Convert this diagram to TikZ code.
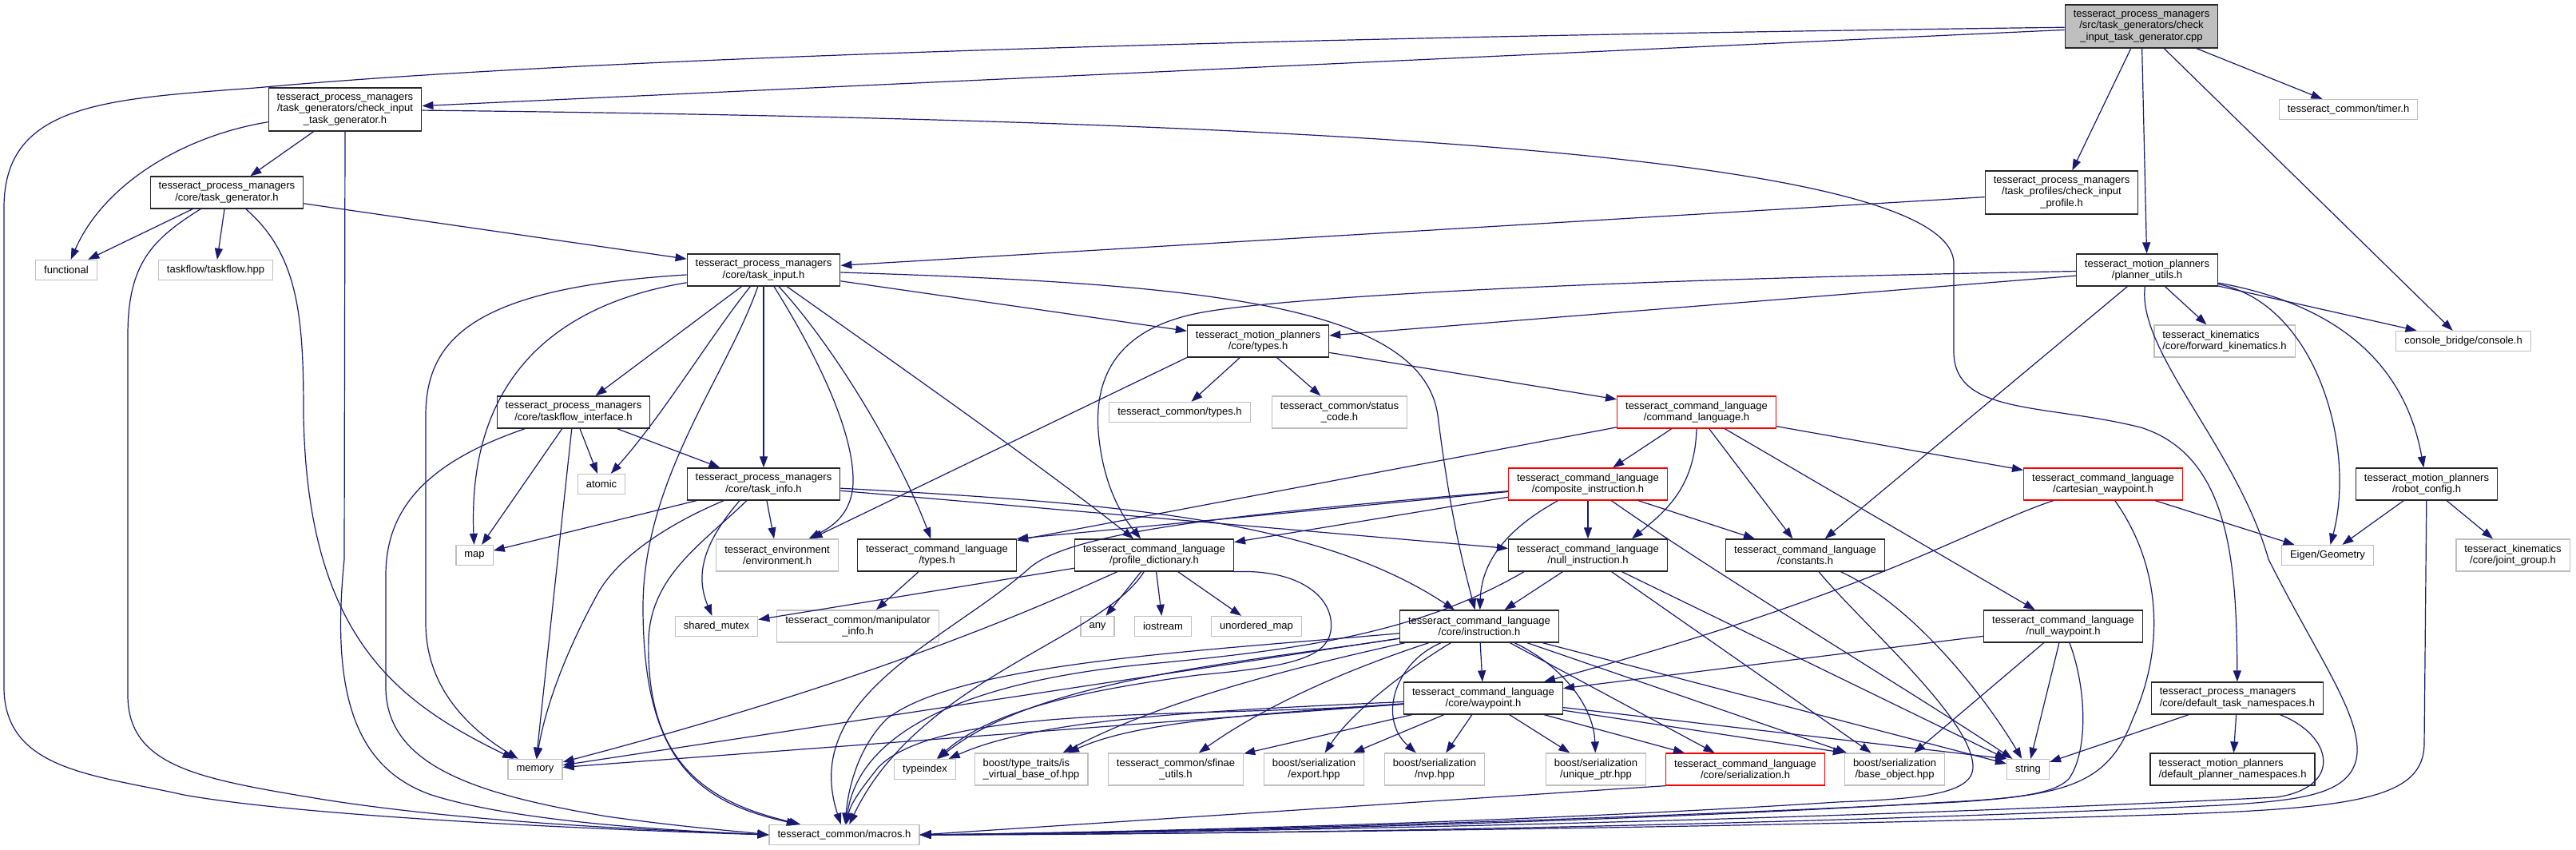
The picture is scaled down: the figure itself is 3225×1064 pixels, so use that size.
\documentclass[tikz,border=0pt]{standalone}
\usepackage{fontspec}
\setmainfont{Liberation Sans}
\usepackage{xcolor}
\usetikzlibrary{arrows.meta}

\definecolor{edgeblue}{HTML}{191970}

\begin{document}
\begin{tikzpicture}[x=1pt, y=-1pt,
    box/.style={rectangle, draw=black!85, fill=white, line width=1.3pt, align=center, inner xsep=10.5pt, inner ysep=1pt, font=\fontsize{13}{14.5}\selectfont},
    ext/.style={box, draw=black!25},
    trunc/.style={box, draw=red},
    rootbox/.style={box, fill=black!25},
    oneline/.style={minimum height=25pt},
    twoline/.style={minimum height=40pt},
    threeline/.style={minimum height=54pt},
    arr/.style={-{Triangle[length=14pt, width=10pt]}, line width=1.2pt, draw=edgeblue}
]
    \useasboundingbox (0,0) rectangle (3225,1064);

    % Rang 0 - 2
    \node[rootbox, threeline] (check_cpp) at (2681,33) {tesseract\_process\_managers\\/src/task\_generators/check\\\_input\_task\_generator.cpp};
    \node[box, threeline] (check_gen_h) at (432,137) {tesseract\_process\_managers\\/task\_generators/check\_input\\\_task\_generator.h};
    \node[ext, oneline] (timer) at (2940,137) {tesseract\_common/timer.h};
    \node[box, twoline] (task_gen) at (284,241) {tesseract\_process\_managers\\/core/task\_generator.h};
    \node[box, threeline] (check_profile) at (2581,241) {tesseract\_process\_managers\\/task\_profiles/check\_input\\\_profile.h};

    % Rang 3 - 5
    \node[ext, oneline] (functional) at (83,338) {functional};
    \node[ext, oneline] (taskflow) at (270,338) {taskflow/taskflow.hpp};
    \node[box, twoline] (task_input) at (956,338) {tesseract\_process\_managers\\/core/task\_input.h};
    \node[box, twoline] (planner_utils) at (2688,338) {tesseract\_motion\_planners\\/planner\_utils.h};
    \node[box, twoline] (mp_types) at (1575,427) {tesseract\_motion\_planners\\/core/types.h};
    \node[ext, twoline, align=left] (fwd_kin) at (2785,427) {tesseract\_kinematics\\/core/forward\_kinematics.h};
    \node[ext, oneline] (console) at (3084,427) {console\_bridge/console.h};
    \node[box, twoline] (taskflow_if) at (718,516) {tesseract\_process\_managers\\/core/taskflow\_interface.h};
    \node[ext, oneline] (common_types) at (1477,516) {tesseract\_common/types.h};
    \node[ext, twoline] (status_code) at (1677,516) {tesseract\_common/status\\\_code.h};
    \node[trunc, twoline] (cmd_lang) at (2124,516) {tesseract\_command\_language\\/command\_language.h};

    % Rang 6 - 7
    \node[ext, oneline] (atomic) at (753,606) {atomic};
    \node[box, twoline] (task_info) at (956,606) {tesseract\_process\_managers\\/core/task\_info.h};
    \node[trunc, twoline] (composite) at (1988,606) {tesseract\_command\_language\\/composite\_instruction.h};
    \node[trunc, twoline] (cart_wp) at (2633,606) {tesseract\_command\_language\\/cartesian\_waypoint.h};
    \node[box, twoline] (robot_cfg) at (3038,606) {tesseract\_motion\_planners\\/robot\_config.h};
    \node[ext, oneline] (map) at (594,695) {map};
    \node[ext, twoline] (environment) at (973,695) {tesseract\_environment\\/environment.h};
    \node[box, twoline] (cl_types) at (1173,695) {tesseract\_command\_language\\/types.h};
    \node[box, twoline] (profile_dict) at (1445,695) {tesseract\_command\_language\\/profile\_dictionary.h};
    \node[box, twoline] (null_instr) at (1988,695) {tesseract\_command\_language\\/null\_instruction.h};
    \node[box, twoline] (constants) at (2260,695) {tesseract\_command\_language\\/constants.h};
    \node[ext, oneline] (eigen) at (2914,695) {Eigen/Geometry};
    \node[ext, twoline] (joint_group) at (3146,695) {tesseract\_kinematics\\/core/joint\_group.h};

    % Rang 8 - 9
    \node[ext, oneline] (shared_mutex) at (897,784) {shared\_mutex};
    \node[ext, twoline] (manip_info) at (1074,784) {tesseract\_common/manipulator\\\_info.h};
    \node[ext, oneline] (any) at (1374,784) {any};
    \node[ext, oneline] (iostream) at (1456,784) {iostream};
    \node[ext, oneline] (unordered_map) at (1573,784) {unordered\_map};
    \node[box, twoline] (instruction) at (1852,784) {tesseract\_command\_language\\/core/instruction.h};
    \node[box, twoline] (null_wp) at (2583,784) {tesseract\_command\_language\\/null\_waypoint.h};
    \node[box, twoline] (waypoint) at (1857,874) {tesseract\_command\_language\\/core/waypoint.h};
    \node[box, twoline, align=left] (task_ns) at (2801,874) {tesseract\_process\_managers\\/core/default\_task\_namespaces.h};

    % Rang 10 - 11
    \node[ext, oneline] (memory) at (670,963) {memory};
    \node[ext, oneline] (typeindex) at (1158,963) {typeindex};
    \node[ext, twoline, align=left] (virtual_base) at (1291,963) {boost/type\_traits/is\\\_virtual\_base\_of.hpp};
    \node[ext, twoline] (sfinae) at (1472,963) {tesseract\_common/sfinae\\\_utils.h};
    \node[ext, twoline] (export) at (1645,963) {boost/serialization\\/export.hpp};
    \node[ext, twoline] (nvp) at (1796,963) {boost/serialization\\/nvp.hpp};
    \node[ext, twoline] (unique_ptr) at (1998,963) {boost/serialization\\/unique\_ptr.hpp};
    \node[trunc, twoline] (serialization) at (2185,963) {tesseract\_command\_language\\/core/serialization.h};
    \node[ext, twoline] (base_object) at (2372,963) {boost/serialization\\/base\_object.hpp};
    \node[ext, oneline] (string) at (2539,963) {string};
    \node[box, twoline, align=left] (planner_ns) at (2795,963) {tesseract\_motion\_planners\\/default\_planner\_namespaces.h};
    \node[ext, oneline] (macros) at (1057,1045) {tesseract\_common/macros.h};

    % check_input_task_generator.cpp
    \draw[arr] (check_cpp) -- (check_gen_h);
    \draw[arr] (check_cpp) .. controls (1500,48) and (700,75) .. (320,110) .. controls (130,124) and (5,130) .. (5,260) -- (5,860) .. controls (5,965) and (120,970) .. (230,995) .. controls (400,1025) and (800,1040) .. (macros.west);
    \draw[arr] (check_cpp) -- (check_profile);
    \draw[arr] (check_cpp) -- (planner_utils);
    \draw[arr] (check_cpp) -- (timer);
    \draw[arr] (check_cpp) -- (console);

    % check_input_task_generator.h
    \draw[arr] (check_gen_h) -- (task_gen);
    \draw[arr] (check_gen_h) .. controls (230,170) and (130,230) .. (functional);
    \draw[arr] (check_gen_h.south) -- (431,700) .. controls (415,860) and (440,960) .. (540,995) .. controls (650,1030) and (850,1040) .. (macros.west);
    \draw[arr] (check_gen_h) .. controls (1600,150) and (2446,190) .. (2446,330) -- (2446,440) .. controls (2446,520) and (2560,505) .. (2680,535) .. controls (2790,570) and (2800,700) .. (task_ns);

    % task_generator.h
    \draw[arr] (task_gen) -- (functional);
    \draw[arr] (task_gen) -- (taskflow);
    \draw[arr] (task_gen) .. controls (375,320) and (380,400) .. (380,520) .. controls (385,800) and (500,880) .. (memory);
    \draw[arr] (task_gen) .. controls (190,300) and (160,330) .. (160,420) -- (160,870) .. controls (160,960) and (250,975) .. (400,1000) .. controls (600,1032) and (850,1040) .. (macros.west);
    \draw[arr] (task_gen) -- (task_input);
    \draw[arr] (check_profile) -- (task_input);

    % task_input.h
    \draw[arr] (task_input) -- (taskflow_if);
    \draw[arr] (task_input) .. controls (890,420) and (830,520) .. (atomic);
    \draw[arr] (task_input) .. controls (700,380) and (585,470) .. (map);
    \draw[arr] (task_input) .. controls (600,360) and (533,420) .. (533,520) -- (533,780) .. controls (533,870) and (600,920) .. (memory);
    \draw[arr] (task_input) .. controls (910,470) and (805,600) .. (805,760) .. controls (805,960) and (880,1005) .. (macros);
    \draw[arr] (task_input) -- (task_info);
    \draw[arr] (task_input) .. controls (1020,440) and (1070,540) .. (1068,605) .. controls (1066,645) and (1040,660) .. (environment);
    \draw[arr] (task_input) .. controls (1050,440) and (1130,580) .. (cl_types);
    \draw[arr] (task_input) .. controls (1100,440) and (1300,580) .. (profile_dict);
    \draw[arr] (task_input) .. controls (1500,355) and (1780,380) .. (1800,520) .. controls (1815,640) and (1830,700) .. (instruction);
    \draw[arr] (task_input) -- (mp_types);

    % planner_utils.h
    \draw[arr] (planner_utils) -- (mp_types);
    \draw[arr] (planner_utils) .. controls (2000,350) and (1600,372) .. (1500,392) .. controls (1400,412) and (1370,470) .. (1375,540) .. controls (1380,600) and (1400,640) .. (profile_dict);
    \draw[arr] (planner_utils) -- (fwd_kin);
    \draw[arr] (planner_utils) -- (console);
    \draw[arr] (planner_utils) .. controls (2900,380) and (2950,560) .. (eigen);
    \draw[arr] (planner_utils) .. controls (2920,380) and (3010,450) .. (robot_cfg);
    \draw[arr] (planner_utils) -- (constants);
    \draw[arr] (planner_utils) .. controls (2675,440) and (2800,560) .. (2840,700) .. controls (2900,820) and (2960,900) .. (2950,950) .. controls (2940,995) and (2880,1002) .. (2780,1008) .. controls (2200,1035) and (1500,1045) .. (macros.east);

    % tesseract_motion_planners/core/types.h
    \draw[arr] (mp_types) -- (common_types);
    \draw[arr] (mp_types) -- (status_code);
    \draw[arr] (mp_types) -- (cmd_lang);
    \draw[arr] (mp_types.south west) -- (environment);

    % command_language.h
    \draw[arr] (cmd_lang) -- (composite);
    \draw[arr] (cmd_lang.south) .. controls (2122,610) and (2085,640) .. ([xshift=55pt]null_instr.north);
    \draw[arr] (cmd_lang) -- (constants);
    \draw[arr] (cmd_lang) -- (null_wp);
    \draw[arr] (cmd_lang) -- (cart_wp);
    \draw[arr] (cmd_lang) -- (cl_types);

    % taskflow_interface.h
    \draw[arr] (taskflow_if) -- (atomic);
    \draw[arr] (taskflow_if) -- (map);
    \draw[arr] (taskflow_if) -- (memory);
    \draw[arr] (taskflow_if) .. controls (530,580) and (483,640) .. (483,720) -- (483,860) .. controls (483,960) and (600,995) .. (760,1022) .. controls (860,1036) and (920,1040) .. (macros.west);
    \draw[arr] (taskflow_if) -- (task_info);

    % task_info.h
    \draw[arr] (task_info) -- (map);
    \draw[arr] (task_info) .. controls (850,650) and (780,690) .. (750,740) .. controls (700,830) and (680,900) .. (memory);
    \draw[arr] (task_info) .. controls (880,680) and (815,720) .. (812,800) .. controls (808,960) and (890,1005) .. (macros);
    \draw[arr] ([xshift=-30pt]task_info.south) .. controls (880,680) and (870,720) .. (shared_mutex);
    \draw[arr] (task_info) -- (environment);
    \draw[arr] (task_info) .. controls (1400,630) and (1650,650) .. (instruction);
    \draw[arr] (task_info) -- (null_instr);

    % composite_instruction.h
    \draw[arr] (composite) -- (cl_types.north east);
    \draw[arr] (composite) -- (profile_dict);
    \draw[arr] (composite) .. controls (1600,640) and (1350,660) .. (1290,710) .. controls (1190,800) and (1000,870) .. (macros);
    \draw[arr] (composite) .. controls (1890,660) and (1855,700) .. (instruction);
    \draw[arr] (composite) -- (null_instr);
    \draw[arr] (composite) -- (constants);
    \draw[arr] (composite) .. controls (2150,720) and (2400,870) .. (string);

    % cartesian_waypoint.h, robot_config.h, types.h
    \draw[arr] (cart_wp) .. controls (2470,660) and (2350,740) .. (waypoint);
    \draw[arr] (cart_wp) -- (eigen);
    \draw[arr] (cart_wp) .. controls (2700,700) and (2715,800) .. (2670,900) .. controls (2640,980) and (2590,995) .. (2450,1004) .. controls (1900,1032) and (1400,1042) .. (macros.east);
    \draw[arr] (robot_cfg) -- (eigen);
    \draw[arr] (robot_cfg) -- (joint_group);
    \draw[arr] (robot_cfg) -- (3035,930) .. controls (3035,1000) and (2950,1012) .. (2700,1020) .. controls (2200,1036) and (1500,1044) .. (macros.east);
    \draw[arr] (cl_types) -- (manip_info);

    % profile_dictionary.h
    \draw[arr] (profile_dict) -- (shared_mutex);
    \draw[arr] (profile_dict) -- (any);
    \draw[arr] (profile_dict) -- (iostream);
    \draw[arr] (profile_dict) -- (unordered_map);
    \draw[arr] (profile_dict) .. controls (1300,760) and (1100,850) .. (memory);
    \draw[arr] (profile_dict.south east) .. controls (1630,712) and (1672,750) .. (1666,790) .. controls (1660,825) and (1610,835) .. (1500,845) .. controls (1350,865) and (1240,890) .. (typeindex);
    \draw[arr] (profile_dict) .. controls (1380,800) and (1150,850) .. (macros);

    % null_instruction.h, constants.h
    \draw[arr] (null_instr) -- (instruction);
    \draw[arr] ([xshift=-80pt]null_instr.south) .. controls (1780,790) and (1640,812) .. (1450,830) .. controls (1200,852) and (1075,920) .. (macros);
    \draw[arr] (null_instr) -- (base_object);
    \draw[arr] (null_instr) -- (string);
    \draw[arr] (constants) .. controls (2400,760) and (2490,880) .. (string);
    \draw[arr] (constants) .. controls (2330,780) and (2470,900) .. (2470,960) .. controls (2470,995) and (2400,1000) .. (2300,1004) .. controls (1900,1030) and (1400,1042) .. (macros.east);

    % null_waypoint.h
    \draw[arr] (null_wp) -- (waypoint);
    \draw[arr] (null_wp) -- (base_object);
    \draw[arr] (null_wp) -- (string);
    \draw[arr] (null_wp) .. controls (2612,860) and (2615,940) .. (2590,975) .. controls (2570,995) and (2520,1000) .. (2420,1005) .. controls (2000,1030) and (1500,1042) .. (macros.east);

    % instruction.h
    \draw[arr] (instruction) -- (waypoint);
    \draw[arr] (instruction) .. controls (1500,815) and (1200,830) .. (1110,900) .. controls (1075,935) and (1062,985) .. (macros);
    \draw[arr] (instruction) -- (memory);
    \draw[arr] (instruction) -- (string);
    \draw[arr] (instruction) .. controls (1550,830) and (1300,850) .. (typeindex);
    \draw[arr] (instruction) .. controls (1600,840) and (1450,880) .. (virtual_base);
    \draw[arr] (instruction) .. controls (1650,850) and (1560,900) .. (sfinae);
    \draw[arr] (instruction) .. controls (1790,820) and (1700,880) .. (export);
    \draw[arr] (instruction) .. controls (1745,830) and (1725,900) .. (nvp);
    \draw[arr] (instruction) .. controls (1950,830) and (1995,880) .. (unique_ptr);
    \draw[arr] (instruction) -- (serialization);
    \draw[arr] (instruction) -- (base_object);

    % waypoint.h
    \draw[arr] (waypoint) .. controls (1500,900) and (1180,880) .. (1100,960) .. controls (1080,985) and (1065,1005) .. (macros);
    \draw[arr] (waypoint) -- (memory);
    \draw[arr] (waypoint) -- (string.north west);
    \draw[arr] (waypoint) .. controls (1500,890) and (1300,900) .. (typeindex);
    \draw[arr] (waypoint) .. controls (1550,895) and (1420,905) .. (virtual_base);
    \draw[arr] (waypoint) -- (sfinae);
    \draw[arr] (waypoint) -- (export);
    \draw[arr] (waypoint) -- (nvp);
    \draw[arr] (waypoint) -- (unique_ptr);
    \draw[arr] (waypoint) -- (serialization);
    \draw[arr] (waypoint) -- (base_object.north west);

    % default_task_namespaces.h, serialization.h
    \draw[arr] (task_ns) -- (string);
    \draw[arr] (task_ns) -- (planner_ns);
    \draw[arr] (task_ns) .. controls (2920,920) and (2935,985) .. (2850,998) .. controls (2200,1030) and (1500,1042) .. (macros.east);
    \draw[arr] (serialization.south west) -- (macros.east);
\end{tikzpicture}
\end{document}
